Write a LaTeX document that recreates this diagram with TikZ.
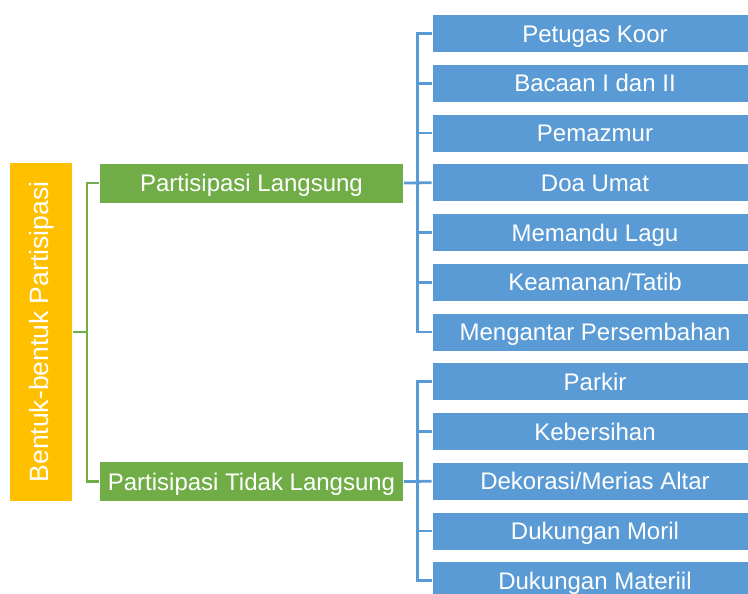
\documentclass[tikz,border=0pt]{standalone}
\usepackage{fontspec}
\setmainfont{Liberation Sans}
\definecolor{oyellow}{HTML}{FFC000}
\definecolor{ogreen}{HTML}{70AD47}
\definecolor{oblue}{HTML}{5B9BD5}
\begin{document}
\begin{tikzpicture}[x=1pt,y=-1pt,
  txt/.style={font=\fontsize{24}{28}\selectfont, text=white, inner sep=0pt, text height=17.2pt, text depth=0pt},
  ybox/.style={font=\fontsize{26.5}{30}\selectfont, text=white, inner sep=0pt, fill=oyellow, draw=white, line width=0.8pt, minimum width=63, minimum height=339},
  gbox/.style={txt, fill=ogreen, draw=white, line width=0.8pt, minimum width=304, minimum height=40},
  bbox/.style={txt, fill=oblue, draw=white, line width=0.8pt, minimum width=317, minimum height=38},
  gline/.style={draw=ogreen, line width=2.8pt},
  bline/.style={draw=oblue, line width=2.8pt}]
\useasboundingbox (0,0) rectangle (748,594);
\node[ybox] (Y) at (41,332) {\rotatebox{90}{\raisebox{2.5pt}[19pt][0pt]{Bentuk-bentuk Partisipasi}}};
\node[gbox] (G1) at (251.5,183) {Partisipasi Langsung};
\node[gbox] (G2) at (251.5,481.5) {Partisipasi Tidak Langsung};
\foreach \t [count=\i] in {Petugas Koor,Bacaan I dan II,Pemazmur,Doa Umat,Memandu Lagu,Keamanan/Tatib,Mengantar Persembahan,Parkir,Kebersihan,Dekorasi/Merias Altar,Dukungan Moril,Dukungan Materiil}
  \node[bbox] (B\i) at (590.5,{33.5+(\i-1)*49.75}) {\hspace*{9pt}\t};
% green bracket
\coordinate (gb) at (87,332);
\draw[gline] (Y.east) -- (gb);
\draw[gline] (G1.west) -| (gb);
\draw[gline] (G2.west) -| (gb);
% blue brackets
\draw[bline] (G1.east) -- (B4.west);
\draw[bline] (G2.east) -- (B10.west);
\draw[bline] (B1.west) -- ++(-14,0) |- (B7.west);
\foreach \i in {2,3,5,6} \draw[bline] (B\i.west) -- ++(-14,0);
\draw[bline] (B8.west) -- ++(-14,0) |- (B12.west);
\foreach \i in {9,11} \draw[bline] (B\i.west) -- ++(-14,0);
\end{tikzpicture}
\end{document}
